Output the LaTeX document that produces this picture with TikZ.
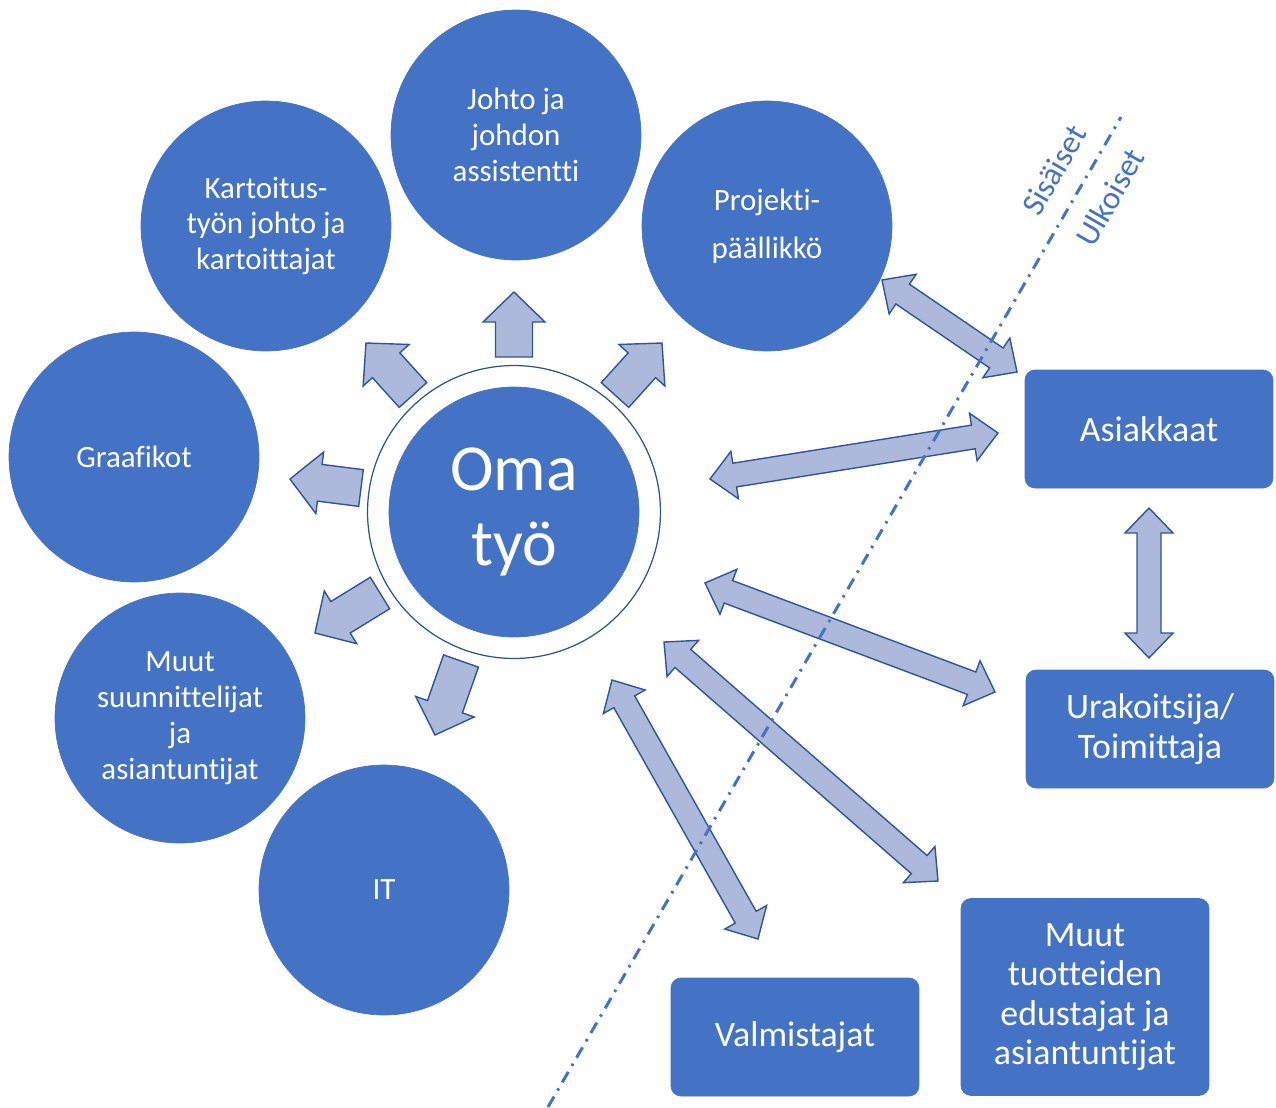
\documentclass[tikz,border=0pt]{standalone}
\usepackage{fontspec}
\setmainfont{Carlito}[Ligatures=NoCommon]
\usetikzlibrary{calc}
\definecolor{boxblue}{HTML}{4472C4}
\definecolor{arrowfill}{HTML}{ADB9DB}
\definecolor{arrowline}{HTML}{2F5597}
\definecolor{ringline}{HTML}{2F528F}

\begin{document}
\begin{tikzpicture}[
x=0.02cm, y=-0.02cm,
every node/.style={text=white, align=center},
circ/.style={draw=boxblue, fill=boxblue, circle, minimum size=5cm, inner sep=0pt, font=\fontsize{17.6}{20.4}\selectfont},
box/.style={draw=boxblue, fill=boxblue, rectangle, rounded corners=0.2cm, minimum width=4.96cm, minimum height=2.36cm, inner sep=0pt, font=\fontsize{20.4}{22.4}\selectfont},
block/.style={draw=arrowline, fill=arrowfill, line width=0.8pt, line join=miter},
side/.style={text=boxblue, rotate=60, inner sep=1pt, font=\fontsize{18.5}{20}\selectfont}
]
\useasboundingbox (0,0) rectangle (1276,1107);

\node[draw=ringline, fill=white, circle, minimum size=5.86cm, line width=0.7pt] (rengas) at (514,512) {};
\node[circ, font=\fontsize{37.4}{42.5}\selectfont] (oma) at (514,512) {Oma\\työ};

\node[circ] (johto) at (516,135) {Johto ja\\johdon\\assistentti};
\node[circ] (kartoitus) at (266,226) {Kartoitus-\\työn johto ja\\kartoittajat};
\node[circ] (projekti) at (767,226) {Projekti-\\[7pt]päällikkö};
\node[circ] (graafikot) at (134,457) {Graafikot};
\node[circ] (suunnittelijat) at (180,718) {Muut\\suunnittelijat\\ja\\asiantuntijat};
\node[circ] (it) at (384,890) {IT};

\node[box] (asiakkaat) at (1149,429) {Asiakkaat};
\node[box] (urakoitsija) at (1150,729) {Urakoitsija/\\Toimittaja};
\node[box] (valmistajat) at (795,1037) {Valmistajat};
\node[box, minimum height=3.94cm] (edustajat) at (1085,997) {Muut\\tuotteiden\\edustajat ja\\asiantuntijat};

% oma tyo -> sisaiset
\coordinate (u0) at (514,357);  \coordinate (u1) at (514,292);
\coordinate (ul0) at (413,395); \coordinate (ul1) at (366,343);
\coordinate (ur0) at (615,395); \coordinate (ur1) at (662,343);
\coordinate (l0) at (361,488);  \coordinate (l1) at (290,479);
\coordinate (ll0) at (380,593); \coordinate (ll1) at (315,633);
\coordinate (d0) at (461,661);  \coordinate (d1) at (435,735);

\foreach \a/\b in {u0/u1, ul0/ul1, ur0/ur1, l0/l1, ll0/ll1, d0/d1} {
    \coordinate (hb) at ($(\b)!0.6cm!(\a)$);
    \draw[block] ($(\a)!0.37cm!90:(\b)$) -- ($(hb)!0.37cm!90:(\b)$) -- ($(hb)!0.62cm!90:(\b)$) -- (\b)
        -- ($(hb)!0.62cm!-90:(\b)$) -- ($(hb)!0.37cm!-90:(\b)$) -- ($(\a)!0.37cm!-90:(\b)$) -- cycle;
}

% ulkoiset
\coordinate (pa0) at (882,280);  \coordinate (pa1) at (1017,372);
\coordinate (oa0) at (710,479);  \coordinate (oa1) at (998,433);
\coordinate (ou0) at (705,583);  \coordinate (ou1) at (995,692);
\coordinate (oe0) at (664,642);  \coordinate (oe1) at (938,881);
\coordinate (ov0) at (612,680);  \coordinate (ov1) at (758,939);
\coordinate (au0) at (1149,508); \coordinate (au1) at (1149,658);

\foreach \a/\b in {pa0/pa1, oa0/oa1, ou0/ou1, oe0/oe1, ov0/ov1, au0/au1} {
    \coordinate (ha) at ($(\a)!0.5cm!(\b)$);
    \coordinate (hb) at ($(\b)!0.5cm!(\a)$);
    \draw[block] (\a) -- ($(ha)!0.48cm!90:(\b)$) -- ($(ha)!0.24cm!90:(\b)$) -- ($(hb)!0.24cm!90:(\b)$)
        -- ($(hb)!0.48cm!90:(\b)$) -- (\b) -- ($(hb)!0.48cm!-90:(\b)$) -- ($(hb)!0.24cm!-90:(\b)$)
        -- ($(ha)!0.24cm!-90:(\b)$) -- ($(ha)!0.48cm!-90:(\b)$) -- cycle;
}

\coordinate (raja0) at (548,1107);
\coordinate (raja1) at (1121,117);
\draw[boxblue, line width=0.06cm, dash pattern=on 0.24cm off 0.14cm on 0.05cm off 0.14cm] (raja0) -- (raja1);

\node[side] (sisaiset) at (1054,170) {Sisäiset};
\node[side] (ulkoiset) at (1110,197) {Ulkoiset};

\end{tikzpicture}
\end{document}
